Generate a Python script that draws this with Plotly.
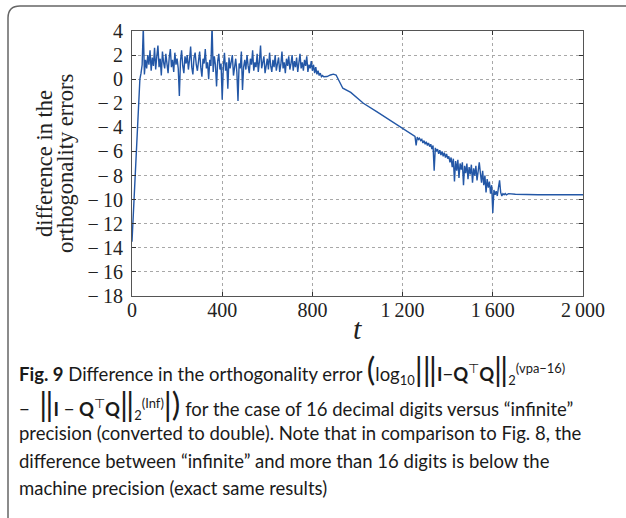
import plotly.graph_objects as go

# ---------------- data ----------------
# noisy part 1: t = 0..850 step 5
t_noisy1 = list(range(0, 855, 5))
v_noisy1 = [
    -13.5, -11.5, -9.0, -7.0, -5.0, -3.0, -1.0, 0.0, 0.5, 1.2,
    4.3, 0.4, 1.6, 0.9, 2.0, 1.2, 2.4, 0.7, 1.8, 1.1,
    2.6, 0.8, 1.9, 2.8, 1.0, 1.7, 0.3, 2.3, 1.4, 0.9,
    2.1, 1.3, 0.5, 1.8, 2.5, 1.0, 1.6, 0.6, 2.2, 1.2,
    1.7, 0.9, -1.4, 1.5, 2.4, 1.1, 0.5, 1.9, 1.3, 2.0,
    0.8, 1.6, 2.7, 1.0, 0.4, 1.8, 2.2, 1.2, 0.7, 1.5,
    2.3, 1.0, 0.2, 1.7, 1.3, 2.5, 0.9, 1.4, 0.0, 1.6,
    1.1, 4.5, 0.6, 1.9, 1.2, -0.6, 1.5, 2.1, 0.8, 1.3,
    -1.7, 1.0, 2.2, 0.7, 1.4, -0.8, 1.8, 0.9, 1.5, 2.0,
    0.3, 1.2, 1.7, 0.6, -1.8, 1.3, 0.9, 2.3, -0.9, 1.0,
    1.6, 0.8, 2.0, 1.1, 0.5, 1.7, 1.2, 2.4, 0.7, 1.4,
    1.0, 2.1, 0.6, 1.5, 2.8, 0.9, 1.3, 1.9, 0.5, 1.2,
    1.7, 0.8, 2.2, 1.1, 0.6, 1.6, 1.0, 2.0, 0.7, 1.3,
    1.8, 0.6, 1.2, 2.3, 0.9, 1.4, 0.5, 1.7, 1.1, 1.9,
    0.8, 1.3, 2.0, 0.7, 1.5, 1.0, 1.8, 0.6, 1.2, 2.1,
    0.9, 1.4, 0.7, 1.6, 1.1, 1.9, 0.6, 1.2, 0.9, 1.5,
    0.7, 1.2, 0.5, 1.0, 0.4, 0.7, 0.3, 0.5, 0.2, 0.3,
    0.2,
]

# smooth part
t_smooth = [865, 880, 893, 905, 915, 925, 935, 970, 1026, 1085, 1144, 1200, 1240, 1255]
v_smooth = [0.22, 0.35, 0.42, 0.35, 0.0, -0.45, -0.75, -1.1, -2.0, -2.7, -3.4, -4.05, -4.5, -4.75]

# noisy part 2: t = 1260..1660 step 5
t_noisy2 = list(range(1260, 1665, 5))
v_noisy2 = [
    -5.5, -4.8, -5.0, -4.9, -5.1, -5.0, -5.3, -5.1, -5.4, -5.2,
    -5.5, -5.3, -5.6, -5.4, -5.8, -5.5, -7.6, -5.7, -6.0, -5.8,
    -6.2, -5.9, -6.3, -6.0, -6.4, -6.1, -6.5, -6.2, -6.6, -6.4,
    -6.9, -6.5, -7.3, -6.6, -8.5, -6.8, -7.6, -6.7, -8.2, -7.0,
    -7.5, -6.9, -8.8, -7.2, -7.8, -7.0, -8.3, -7.3, -7.9, -7.1,
    -8.6, -7.4, -8.0, -7.2, -8.4, -7.3, -6.9, -7.8, -8.6, -7.6,
    -8.8, -8.0, -9.4, -8.3, -9.0, -8.5, -9.5, -8.8, -11.1, -9.2,
    -9.6, -9.3, -9.7, -9.0, -8.4, -9.4, -9.7, -9.5, -9.6, -9.5,
    -9.6,
]

# flat tail
t_tail = [1670, 1700, 1800, 1900, 2000]
v_tail = [-9.5, -9.55, -9.6, -9.6, -9.6]

x_ticks = [0, 400, 800, 1200, 1600, 2000]
x_ticklabels = ["0", "400", "800", "1\u2009200", "1\u2009600", "2\u2009000"]
y_ticks = list(range(-18, 6, 2))
y_ticklabels = [("\u2212\u2009" + str(-v)) if v < 0 else str(v) for v in y_ticks]
y_title_lines = ["difference in the", "orthogonality errors"]
x_title = "t"

t_all = t_noisy1 + t_smooth + t_noisy2 + t_tail
v_all = v_noisy1 + v_smooth + v_noisy2 + v_tail

# ---------------- layout geometry ----------------
W, H = 626, 518
L, R, T, B = 132, 583, 31, 296  # plot area in pixels


def px(x):
    return (x - L) / (R - L)


def py(y):
    return 1 - (y - T) / (B - T)


fig = go.Figure()
fig.add_trace(go.Scatter(x=t_all, y=v_all, mode="lines",
                         line=dict(color="#2357a6", width=1.4),
                         showlegend=False, hoverinfo="skip"))

serif = "Liberation Serif, DejaVu Serif, serif"
axis_common = dict(showline=True, linecolor="#555", linewidth=1.2, mirror="ticks",
                   ticks="inside", ticklen=4, tickcolor="#333", tickwidth=1,
                   showgrid=True, gridcolor="#a8a8a8", gridwidth=1, griddash="3px,3px",
                   zeroline=False, tickfont=dict(family=serif, size=20, color="#222"))

fig.update_xaxes(range=[0, 2000], tickvals=x_ticks, ticktext=x_ticklabels,
                 ticklabelstandoff=-4, **axis_common)
fig.update_yaxes(range=[-18, 4], tickvals=y_ticks, ticktext=y_ticklabels,
                 ticklabelstandoff=4, **axis_common)

sans = "Lato, Open Sans, sans-serif"
cap_font = dict(family=sans, size=18.5, color="#1a1a1a")

big = '<span style="font-size:32px">'
cap_lines = [
    ("<b>Fig. 9</b> Difference in the orthogonality error " + big + "(</span>log<sub>10</sub>"
     + big + "|</span>" + big + "‖</span><b>I</b>\u2212<b>Q</b><sup>\u22a4</sup><b>Q</b>" + big + "‖</span>"
     + "<sub>2</sub><sup>(vpa\u221216)</sup>", 368),
    ("\u2212  " + big + "‖</span><b>I</b> \u2212 <b>Q</b><sup>\u22a4</sup><b>Q</b>" + big + "‖</span>"
     + "<sub>2</sub><sup>(Inf)</sup>" + big + "|)</span> for the case of 16 decimal digits versus \u201cinfinite\u201d", 403),
    ("precision (converted to double). Note that in comparison to Fig. 8, the", 433),
    ("difference between \u201cinfinite\u201d and more than 16 digits is below the", 461),
    ("machine precision (exact same results)", 488),
]

annotations = []
for text, yc in cap_lines:
    annotations.append(dict(text=text, xref="paper", yref="paper", x=px(17), y=py(yc),
                            xanchor="left", yanchor="middle", showarrow=False, font=cap_font,
                            align="left"))

# axis titles
for line_text, xc in zip(y_title_lines, [44, 65]):
    annotations.append(dict(text=line_text, xref="paper", yref="paper",
                            x=px(xc), y=py(164), xanchor="center", yanchor="middle", textangle=-90,
                            showarrow=False, font=dict(family=serif, size=22.5, color="#222")))
annotations.append(dict(text="<i>" + x_title + "</i>", xref="paper", yref="paper", x=px(357), y=py(328),
                        xanchor="center", yanchor="middle", showarrow=False,
                        font=dict(family=serif, size=30, color="#222")))

# figure frame with rounded top-left corner
frame_path = (f"M {px(8)},{py(530)} L {px(8)},{py(18)} Q {px(8)},{py(6)} {px(20)},{py(6)} "
              f"L {px(640)},{py(6)}")
shapes = [dict(type="path", xref="paper", yref="paper", path=frame_path,
               line=dict(color="#666", width=1.5))]

fig.update_layout(width=W, height=H, margin=dict(l=L, r=W - R, t=T, b=H - B),
                  paper_bgcolor="white", plot_bgcolor="white",
                  annotations=annotations, shapes=shapes)

fig.write_html("out.html")
